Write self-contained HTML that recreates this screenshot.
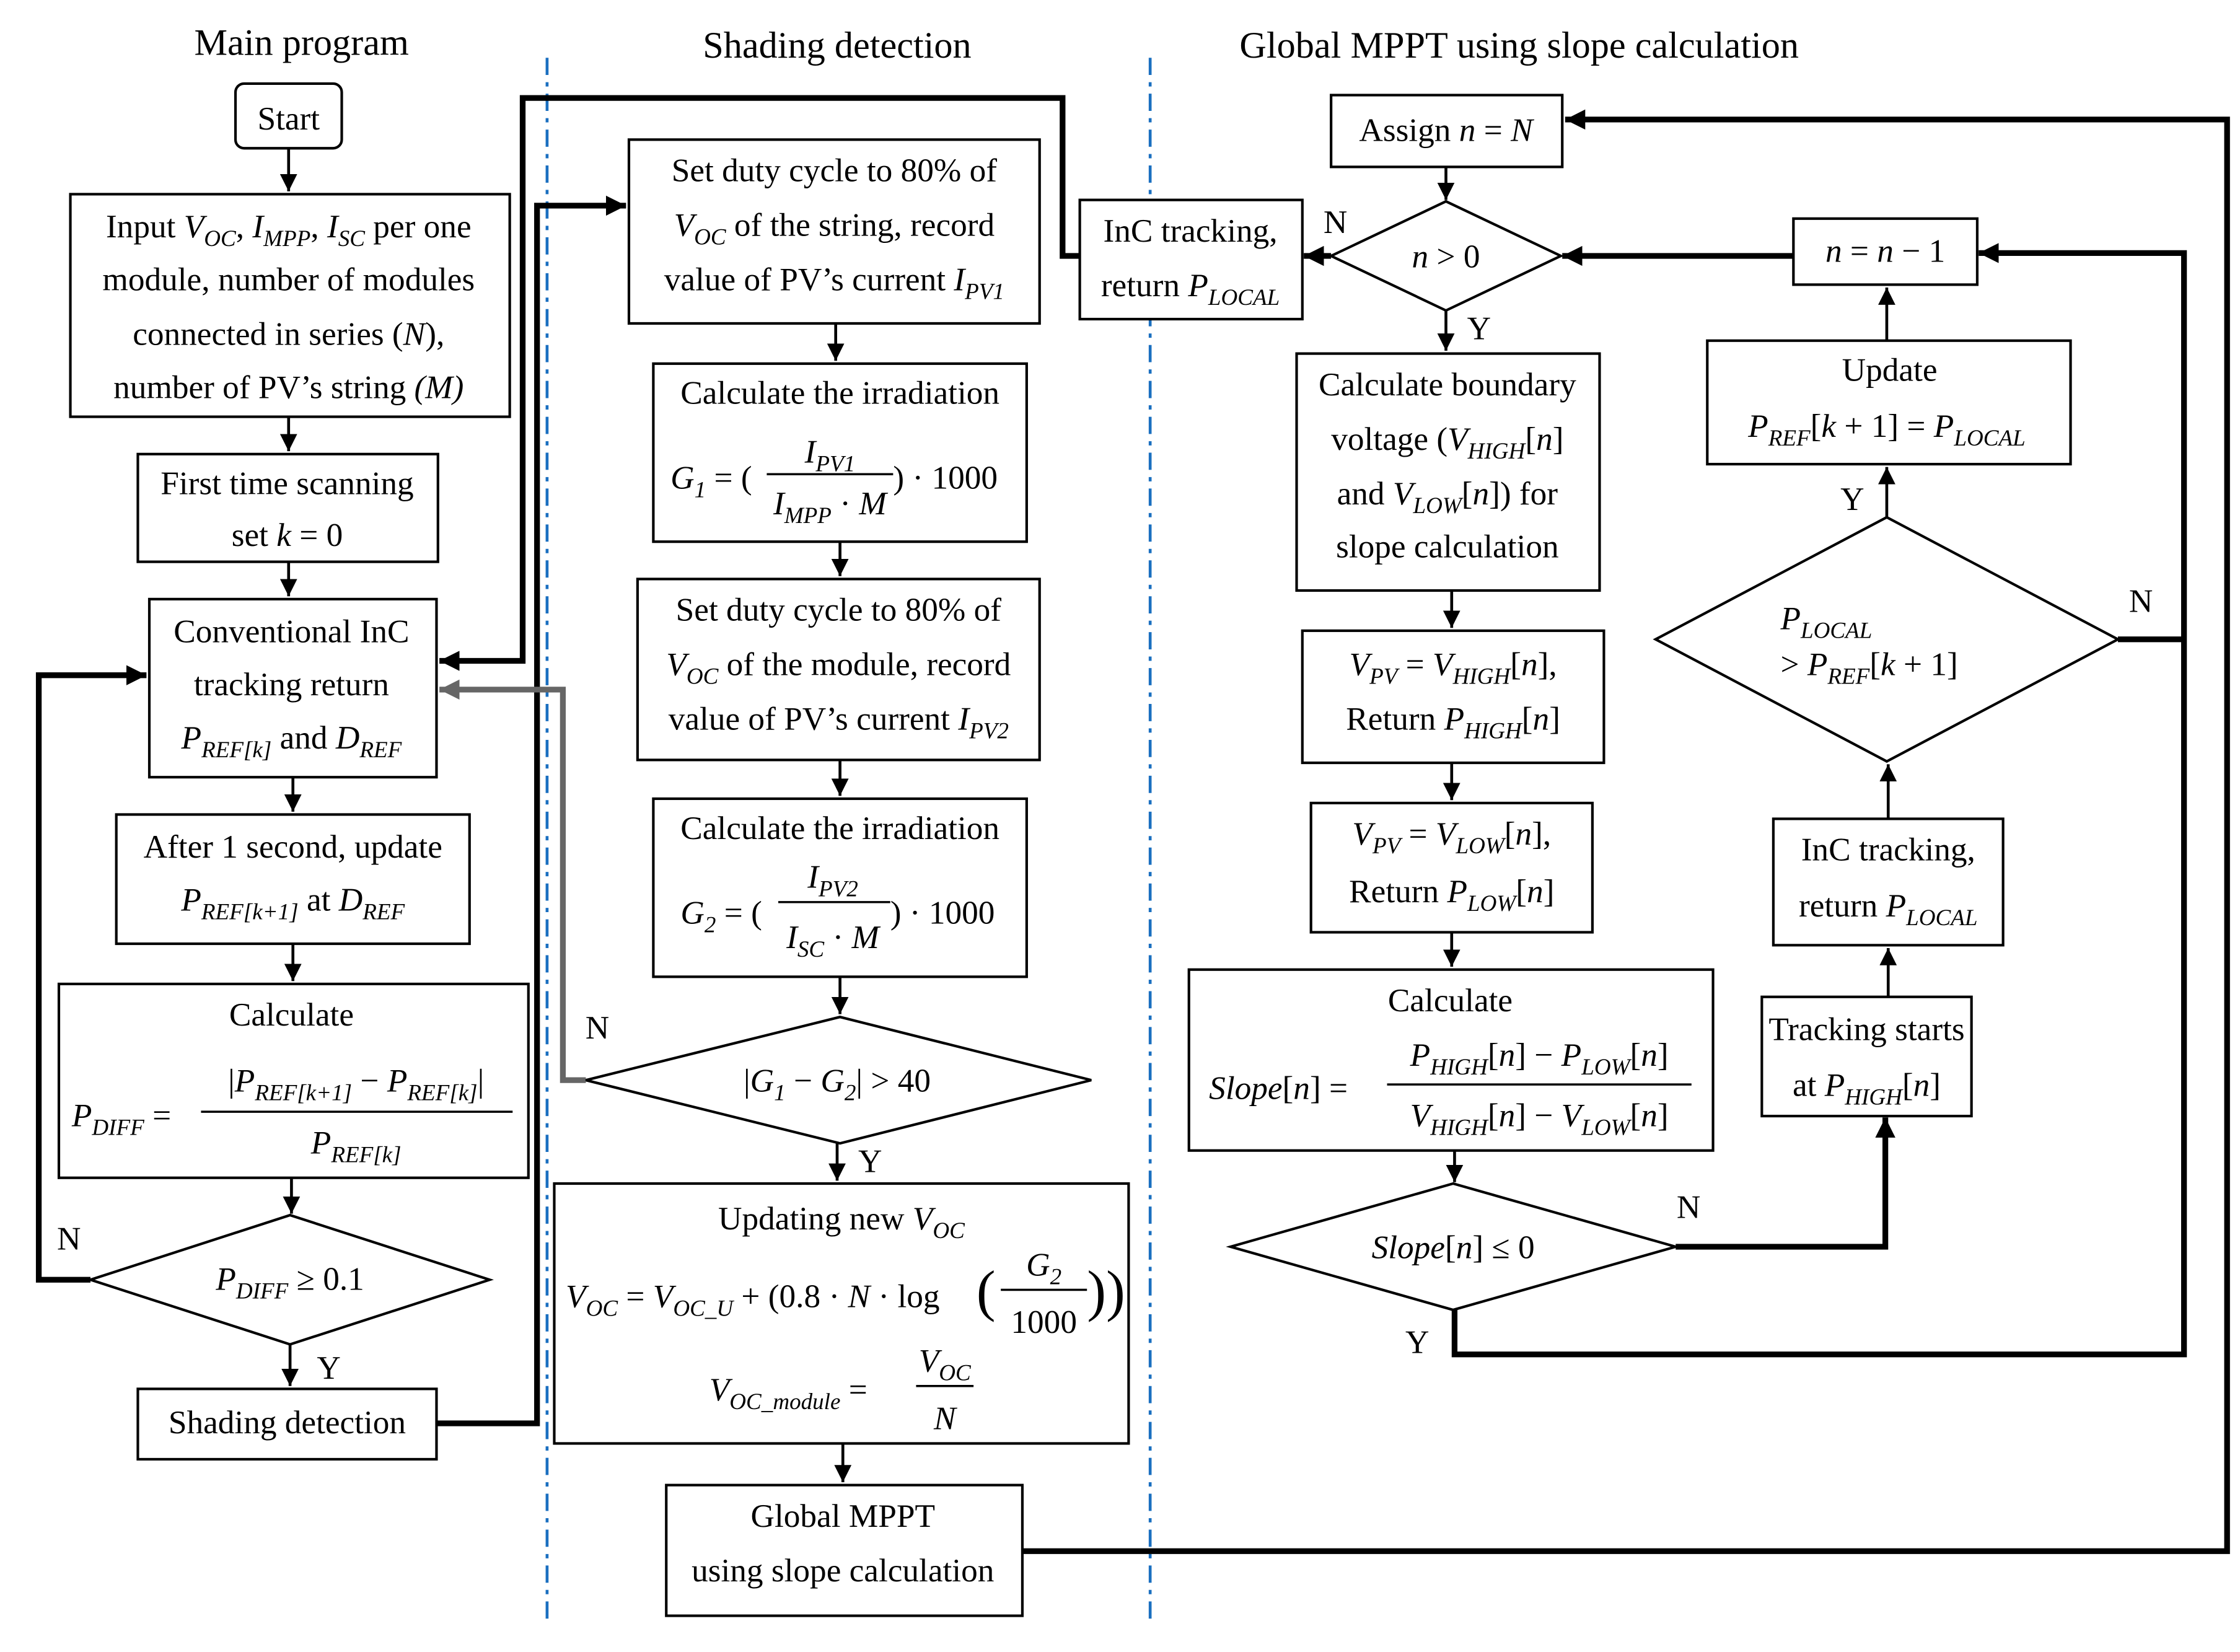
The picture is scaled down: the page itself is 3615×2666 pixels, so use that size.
<!DOCTYPE html>
<html><head><meta charset="utf-8"><style>
html,body{margin:0;padding:0;background:#fff}
svg{display:block}
text{font-family:"Liberation Serif",serif;font-size:23px;fill:#000}
.i{font-style:italic}
.s{font-size:16px;baseline-shift:-6px;font-style:italic}
.h{font-size:26px}
rect{fill:#fff;stroke:#000;stroke-width:1.8}
polygon.d{fill:#fff;stroke:#000;stroke-width:1.8}
.l{fill:none;stroke:#000;stroke-width:2}
.t{fill:none;stroke:#000;stroke-width:4}
</style></head><body>
<svg width="3615" height="2666" viewBox="0 0 1560 1150" xmlns="http://www.w3.org/2000/svg">
<defs>
<marker id="a" viewBox="0 0 10 10" refX="10" refY="5" markerWidth="14" markerHeight="14" orient="auto" markerUnits="userSpaceOnUse"><path d="M0,0 L10,5 L0,10 z" fill="#000"/></marker>
<marker id="b" viewBox="0 0 10 10" refX="10" refY="5" markerWidth="12" markerHeight="12" orient="auto" markerUnits="userSpaceOnUse"><path d="M0,0 L10,5 L0,10 z" fill="#000"/></marker>
<marker id="g" viewBox="0 0 10 10" refX="10" refY="5" markerWidth="14" markerHeight="14" orient="auto" markerUnits="userSpaceOnUse"><path d="M0,0 L10,5 L0,10 z" fill="#666"/></marker>
</defs>
<rect x="0" y="0" width="1560" height="1150" style="fill:#fff;stroke:none"/>
<text class="h" x="210" y="38" text-anchor="middle">Main program</text>
<text class="h" x="583" y="40" text-anchor="middle">Shading detection</text>
<text class="h" x="1058" y="40" text-anchor="middle">Global MPPT using slope calculation</text>
<line x1="381" y1="40" x2="381" y2="1130" stroke="#1a6fc0" stroke-width="2" stroke-dasharray="12,5,3,5"/>
<line x1="801" y1="40" x2="801" y2="1130" stroke="#1a6fc0" stroke-width="2" stroke-dasharray="12,5,3,5"/>

<g class="l">
<line x1="201" y1="103" x2="201" y2="133" marker-end="url(#b)"/>
<line x1="201" y1="290" x2="201" y2="314" marker-end="url(#b)"/>
<line x1="201" y1="391" x2="201" y2="415" marker-end="url(#b)"/>
<line x1="204" y1="541" x2="204" y2="565" marker-end="url(#b)"/>
<line x1="204" y1="657" x2="204" y2="683" marker-end="url(#b)"/>
<line x1="203" y1="820" x2="203" y2="845" marker-end="url(#b)"/>
<line x1="202" y1="936" x2="202" y2="965" marker-end="url(#b)"/>
<line x1="582" y1="225" x2="582" y2="251" marker-end="url(#b)"/>
<line x1="585" y1="377" x2="585" y2="401" marker-end="url(#b)"/>
<line x1="585" y1="529" x2="585" y2="554" marker-end="url(#b)"/>
<line x1="585" y1="680" x2="585" y2="706" marker-end="url(#b)"/>
<line x1="583" y1="796" x2="583" y2="822" marker-end="url(#b)"/>
<line x1="587" y1="1005" x2="587" y2="1032" marker-end="url(#b)"/>
<line x1="1007" y1="116" x2="1007" y2="139" marker-end="url(#b)"/>
<line x1="1007" y1="216" x2="1007" y2="244" marker-end="url(#b)"/>
<line x1="1011" y1="411" x2="1011" y2="437" marker-end="url(#b)"/>
<line x1="1011" y1="531" x2="1011" y2="557" marker-end="url(#b)"/>
<line x1="1011" y1="649" x2="1011" y2="673" marker-end="url(#b)"/>
<line x1="1013" y1="801" x2="1013" y2="823" marker-end="url(#b)"/>
<line x1="1315" y1="570" x2="1315" y2="532" marker-end="url(#b)"/>
<line x1="1315" y1="694" x2="1315" y2="660" marker-end="url(#b)"/>
<line x1="1314" y1="360" x2="1314" y2="325" marker-end="url(#b)"/>
<line x1="1314" y1="237" x2="1314" y2="200" marker-end="url(#b)"/>
</g>
<g class="t">
<polyline points="63,891 27,891 27,470 102,470" marker-end="url(#a)"/>
<polyline points="304,991 374,991 374,143 436,143" marker-end="url(#a)"/>
<polyline points="752,178 740,178 740,68 364,68 364,460 306,460" marker-end="url(#a)"/>
<polyline points="712,1080 1551,1080 1551,83 1090,83" marker-end="url(#a)"/>
<line x1="927" y1="178" x2="908" y2="178" marker-end="url(#a)"/>
<line x1="1249" y1="178" x2="1088" y2="178" marker-end="url(#a)"/>
<polyline points="1167,868 1313,868 1313,778" marker-end="url(#a)"/>
<polyline points="1013,912 1013,943 1521,943 1521,176 1378,176" marker-end="url(#a)"/>
<line x1="1475" y1="445" x2="1521" y2="445"/>
</g>
<polyline points="408,752 392,752 392,480 306,480" fill="none" stroke="#666" stroke-width="4" marker-end="url(#g)"/>

<rect x="164" y="58" width="74" height="45" rx="6"/>
<text x="201" y="90" text-anchor="middle">Start</text>
<rect x="49" y="135" width="306" height="155"/>
<text x="201" y="165" text-anchor="middle">Input <tspan class="i">V</tspan><tspan class="s">OC</tspan><tspan>, </tspan><tspan class="i">I</tspan><tspan class="s">MPP</tspan><tspan>, </tspan><tspan class="i">I</tspan><tspan class="s">SC</tspan><tspan> per one</tspan></text>
<text x="201" y="202" text-anchor="middle">module, number of modules</text>
<text x="201" y="240" text-anchor="middle">connected in series (<tspan class="i">N</tspan>),</text>
<text x="201" y="277" text-anchor="middle">number of PV’s string <tspan class="i">(M)</tspan></text>
<rect x="96" y="316" width="209" height="75"/>
<text x="200" y="344" text-anchor="middle">First time scanning</text>
<text x="200" y="380" text-anchor="middle">set <tspan class="i">k</tspan> = 0</text>
<rect x="104" y="417" width="200" height="124"/>
<text x="203" y="447" text-anchor="middle">Conventional InC</text>
<text x="203" y="484" text-anchor="middle">tracking return</text>
<text x="203" y="521" text-anchor="middle"><tspan class="i">P</tspan><tspan class="s">REF[k]</tspan><tspan> and </tspan><tspan class="i">D</tspan><tspan class="s">REF</tspan></text>
<rect x="81" y="567" width="246" height="90"/>
<text x="204" y="597" text-anchor="middle">After 1 second, update</text>
<text x="204" y="634" text-anchor="middle"><tspan class="i">P</tspan><tspan class="s">REF[k+1]</tspan><tspan> at </tspan><tspan class="i">D</tspan><tspan class="s">REF</tspan></text>
<rect x="41" y="685" width="327" height="135"/>
<text x="203" y="714" text-anchor="middle">Calculate</text>
<text x="50" y="784"><tspan class="i">P</tspan><tspan class="s">DIFF</tspan><tspan> =</tspan></text>
<text x="248" y="760" text-anchor="middle">|<tspan class="i">P</tspan><tspan class="s">REF[k+1]</tspan><tspan> − </tspan><tspan class="i">P</tspan><tspan class="s">REF[k]</tspan><tspan>|</tspan></text>
<line x1="140" y1="774" x2="357" y2="774" stroke="#000" stroke-width="1.5"/>
<text x="248" y="803" text-anchor="middle"><tspan class="i">P</tspan><tspan class="s">REF[k]</tspan></text>
<polygon class="d" points="63,891 202,846 341,891 202,936"/>
<text x="202" y="898" text-anchor="middle"><tspan class="i">P</tspan><tspan class="s">DIFF</tspan><tspan> ≥ 0.1</tspan></text>
<text x="48" y="870" text-anchor="middle">N</text>
<text x="229" y="960" text-anchor="middle">Y</text>
<rect x="96" y="967" width="208" height="49"/>
<text x="200" y="998" text-anchor="middle">Shading detection</text>

<rect x="438" y="97" width="286" height="128"/>
<text x="581" y="126" text-anchor="middle">Set duty cycle to 80% of</text>
<text x="581" y="164" text-anchor="middle"><tspan class="i">V</tspan><tspan class="s">OC</tspan><tspan> of the string, record</tspan></text>
<text x="581" y="202" text-anchor="middle">value of PV’s current <tspan class="i">I</tspan><tspan class="s">PV1</tspan></text>
<rect x="455" y="253" width="260" height="124"/>
<text x="585" y="281" text-anchor="middle">Calculate the irradiation</text>
<text x="467" y="340"><tspan class="i">G</tspan><tspan class="s">1</tspan><tspan> = (</tspan></text>
<text x="578" y="322" text-anchor="middle"><tspan class="i">I</tspan><tspan class="s">PV1</tspan></text>
<line x1="534" y1="330" x2="622" y2="330" stroke="#000" stroke-width="1.5"/>
<text x="578" y="358" text-anchor="middle"><tspan class="i">I</tspan><tspan class="s">MPP</tspan><tspan> · </tspan><tspan class="i">M</tspan></text>
<text x="622" y="340">) · 1000</text>
<rect x="444" y="403" width="280" height="126"/>
<text x="584" y="432" text-anchor="middle">Set duty cycle to 80% of</text>
<text x="584" y="470" text-anchor="middle"><tspan class="i">V</tspan><tspan class="s">OC</tspan><tspan> of the module, record</tspan></text>
<text x="584" y="508" text-anchor="middle">value of PV’s current <tspan class="i">I</tspan><tspan class="s">PV2</tspan></text>
<rect x="455" y="556" width="260" height="124"/>
<text x="585" y="584" text-anchor="middle">Calculate the irradiation</text>
<text x="474" y="643"><tspan class="i">G</tspan><tspan class="s">2</tspan><tspan> = (</tspan></text>
<text x="580" y="618" text-anchor="middle"><tspan class="i">I</tspan><tspan class="s">PV2</tspan></text>
<line x1="542" y1="628" x2="620" y2="628" stroke="#000" stroke-width="1.5"/>
<text x="580" y="660" text-anchor="middle"><tspan class="i">I</tspan><tspan class="s">SC</tspan><tspan> · </tspan><tspan class="i">M</tspan></text>
<text x="620" y="643">) · 1000</text>
<polygon class="d" points="408,752 585,708 760,752 585,796"/>
<text x="583" y="760" text-anchor="middle">|<tspan class="i">G</tspan><tspan class="s">1</tspan><tspan> − </tspan><tspan class="i">G</tspan><tspan class="s">2</tspan><tspan>| &gt; 40</tspan></text>
<text x="416" y="723" text-anchor="middle">N</text>
<text x="606" y="816" text-anchor="middle">Y</text>
<rect x="386" y="824" width="400" height="181"/>
<text x="586" y="856" text-anchor="middle">Updating new <tspan class="i">V</tspan><tspan class="s">OC</tspan></text>
<text x="394" y="910"><tspan class="i">V</tspan><tspan class="s">OC</tspan><tspan> = </tspan><tspan class="i">V</tspan><tspan class="s">OC_U</tspan><tspan> + (0.8 · </tspan><tspan class="i">N</tspan><tspan> · log</tspan></text>
<text x="680" y="912" style="font-size:40px">(</text>
<text x="727" y="888" text-anchor="middle"><tspan class="i">G</tspan><tspan class="s">2</tspan></text>
<line x1="697" y1="898" x2="757" y2="898" stroke="#000" stroke-width="1.5"/>
<text x="727" y="928" text-anchor="middle">1000</text>
<text x="757" y="912" style="font-size:40px">))</text>
<text x="494" y="975"><tspan class="i">V</tspan><tspan class="s">OC_module</tspan><tspan> =</tspan></text>
<text x="658" y="955" text-anchor="middle"><tspan class="i">V</tspan><tspan class="s">OC</tspan></text>
<line x1="638" y1="965" x2="678" y2="965" stroke="#000" stroke-width="1.5"/>
<text x="658" y="995" text-anchor="middle" class="i">N</text>
<rect x="464" y="1034" width="248" height="91"/>
<text x="587" y="1063" text-anchor="middle">Global MPPT</text>
<text x="587" y="1101" text-anchor="middle">using slope calculation</text>

<rect x="927" y="66" width="161" height="50"/>
<text x="1007" y="98" text-anchor="middle">Assign <tspan class="i">n</tspan> = <tspan class="i">N</tspan></text>
<polygon class="d" points="927,178 1007,140 1087,178 1007,216"/>
<text x="1007" y="186" text-anchor="middle"><tspan class="i">n</tspan> &gt; 0</text>
<text x="930" y="162" text-anchor="middle">N</text>
<text x="1030" y="236" text-anchor="middle">Y</text>
<rect x="752" y="139" width="155" height="83"/>
<text x="829" y="168" text-anchor="middle">InC tracking,</text>
<text x="829" y="206" text-anchor="middle">return <tspan class="i">P</tspan><tspan class="s">LOCAL</tspan></text>
<rect x="903" y="246" width="211" height="165"/>
<text x="1008" y="275" text-anchor="middle">Calculate boundary</text>
<text x="1008" y="313" text-anchor="middle">voltage (<tspan class="i">V</tspan><tspan class="s">HIGH</tspan><tspan>[</tspan><tspan class="i">n</tspan><tspan>]</tspan></text>
<text x="1008" y="351" text-anchor="middle">and <tspan class="i">V</tspan><tspan class="s">LOW</tspan><tspan>[</tspan><tspan class="i">n</tspan><tspan>]) for</tspan></text>
<text x="1008" y="388" text-anchor="middle">slope calculation</text>
<rect x="907" y="439" width="210" height="92"/>
<text x="1012" y="470" text-anchor="middle"><tspan class="i">V</tspan><tspan class="s">PV</tspan><tspan> = </tspan><tspan class="i">V</tspan><tspan class="s">HIGH</tspan><tspan>[</tspan><tspan class="i">n</tspan><tspan>],</tspan></text>
<text x="1012" y="508" text-anchor="middle">Return <tspan class="i">P</tspan><tspan class="s">HIGH</tspan><tspan>[</tspan><tspan class="i">n</tspan><tspan>]</tspan></text>
<rect x="913" y="559" width="196" height="90"/>
<text x="1011" y="588" text-anchor="middle"><tspan class="i">V</tspan><tspan class="s">PV</tspan><tspan> = </tspan><tspan class="i">V</tspan><tspan class="s">LOW</tspan><tspan>[</tspan><tspan class="i">n</tspan><tspan>],</tspan></text>
<text x="1011" y="628" text-anchor="middle">Return <tspan class="i">P</tspan><tspan class="s">LOW</tspan><tspan>[</tspan><tspan class="i">n</tspan><tspan>]</tspan></text>
<rect x="828" y="675" width="365" height="126"/>
<text x="1010" y="704" text-anchor="middle">Calculate</text>
<text x="842" y="765"><tspan class="i">Slope</tspan><tspan>[</tspan><tspan class="i">n</tspan><tspan>] =</tspan></text>
<text x="1072" y="742" text-anchor="middle"><tspan class="i">P</tspan><tspan class="s">HIGH</tspan><tspan>[</tspan><tspan class="i">n</tspan><tspan>] − </tspan><tspan class="i">P</tspan><tspan class="s">LOW</tspan><tspan>[</tspan><tspan class="i">n</tspan><tspan>]</tspan></text>
<line x1="966" y1="755" x2="1178" y2="755" stroke="#000" stroke-width="1.5"/>
<text x="1072" y="784" text-anchor="middle"><tspan class="i">V</tspan><tspan class="s">HIGH</tspan><tspan>[</tspan><tspan class="i">n</tspan><tspan>] − </tspan><tspan class="i">V</tspan><tspan class="s">LOW</tspan><tspan>[</tspan><tspan class="i">n</tspan><tspan>]</tspan></text>
<polygon class="d" points="857,868 1012,824 1167,868 1012,912"/>
<text x="1012" y="876" text-anchor="middle"><tspan class="i">Slope</tspan><tspan>[</tspan><tspan class="i">n</tspan><tspan>] ≤ 0</tspan></text>
<text x="1176" y="848" text-anchor="middle">N</text>
<text x="987" y="942" text-anchor="middle">Y</text>
<rect x="1227" y="694" width="146" height="83"/>
<text x="1300" y="724" text-anchor="middle">Tracking starts</text>
<text x="1300" y="763" text-anchor="middle">at <tspan class="i">P</tspan><tspan class="s">HIGH</tspan><tspan>[</tspan><tspan class="i">n</tspan><tspan>]</tspan></text>
<rect x="1235" y="570" width="160" height="88"/>
<text x="1315" y="599" text-anchor="middle">InC tracking,</text>
<text x="1315" y="638" text-anchor="middle">return <tspan class="i">P</tspan><tspan class="s">LOCAL</tspan></text>
<polygon class="d" points="1153,445 1314,360 1475,445 1314,530"/>
<text x="1240" y="438"><tspan class="i">P</tspan><tspan class="s">LOCAL</tspan></text>
<text x="1240" y="470">&gt; <tspan class="i">P</tspan><tspan class="s">REF</tspan><tspan>[</tspan><tspan class="i">k</tspan><tspan> + 1]</tspan></text>
<text x="1491" y="426" text-anchor="middle">N</text>
<text x="1290" y="355" text-anchor="middle">Y</text>
<rect x="1189" y="237" width="253" height="86"/>
<text x="1316" y="265" text-anchor="middle">Update</text>
<text x="1314" y="304" text-anchor="middle"><tspan class="i">P</tspan><tspan class="s">REF</tspan><tspan>[</tspan><tspan class="i">k</tspan><tspan> + 1] = </tspan><tspan class="i">P</tspan><tspan class="s">LOCAL</tspan></text>
<rect x="1249" y="152" width="128" height="46"/>
<text x="1313" y="182" text-anchor="middle"><tspan class="i">n</tspan> = <tspan class="i">n</tspan> − 1</text>
</svg>
</body></html>
